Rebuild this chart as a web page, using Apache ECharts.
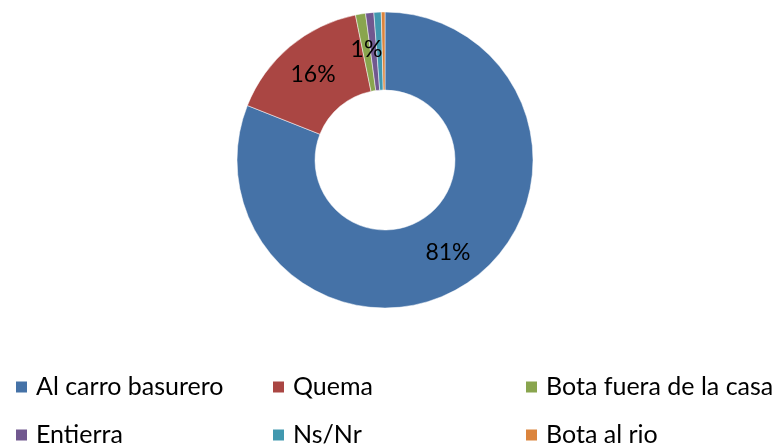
<!DOCTYPE html>
<html>
<head>
<meta charset="utf-8">
<script src="https://cdn.jsdelivr.net/npm/echarts@6/dist/echarts.min.js"></script>
<style>
  html, body { margin: 0; padding: 0; background: #fff; }
  #chart { width: 773px; height: 445px; }
</style>
</head>
<body>
<div id="chart"></div>
<script>
// Disposal of household rubbish
const categories = ['Al carro basurero', 'Quema', 'Bota fuera de la casa', 'Entierra', 'Ns/Nr', 'Bota al rio'];
const values = [81.0, 15.8, 1.1, 0.9, 0.8, 0.4];
const shownLabels = ['81%', '16%', '1%', '', '', ''];
const colors = ['#4572A7', '#AA4643', '#89A54E', '#71588F', '#4198AF', '#DB843D'];

const font = 'Lato, "Open Sans", sans-serif';

// legend grid: 3 columns, 2 rows (x of marker, y of row centre)
const legendCols = [14, 271, 524];
const legendRows = [387, 435];

const chart = echarts.init(document.getElementById('chart'));

const legends = categories.map((name, i) => ({
  left: legendCols[i % 3],
  top: legendRows[Math.floor(i / 3)] - 15,
  itemWidth: 13, itemHeight: 13, icon: 'rect',
  selectedMode: false,
  padding: 0,
  data: [name],
  textStyle: { fontFamily: font, fontSize: 25, color: '#000', padding: [0, 0, 0, 3], lineHeight: 30 }
}));

chart.setOption({
  animation: false,
  color: colors,
  legend: legends,
  series: [{
    type: 'pie',
    center: [385, 160],
    radius: [70, 148],
    startAngle: 90,
    clockwise: true,
    avoidLabelOverlap: false,
    itemStyle: { borderColor: '#fff', borderWidth: 0.5 },
    label: {
      show: true, position: 'inside',
      fontFamily: font, fontSize: 23, color: '#000',
      formatter: p => shownLabels[p.dataIndex]
    },
    labelLine: { show: false },
    emphasis: { disabled: true },
    data: categories.map((c, i) => ({ name: c, value: values[i] }))
  }]
});
</script>
</body>
</html>
